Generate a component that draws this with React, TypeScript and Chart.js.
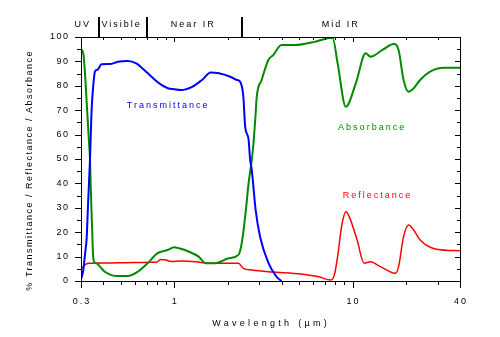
import { useEffect, useRef } from "react";
import { Chart, registerables } from "chart.js";

Chart.register(...registerables);

// ---------- data ----------
const transWl = [0.302, 0.309, 0.316, 0.323, 0.329, 0.337, 0.34, 0.344, 0.351, 0.359, 0.368, 0.374, 0.391, 0.435, 0.483, 0.549, 0.612, 0.695, 0.824, 0.92, 1.0, 1.09, 1.26, 1.43, 1.6, 1.78, 2.06, 2.24, 2.34, 2.44, 2.5, 2.61, 2.66, 2.72, 2.86, 3.03, 3.37, 3.74, 3.99];
const transVal = [1.2, 4.5, 11, 18, 32.5, 50, 59, 70, 79.6, 85.8, 86.5, 86.8, 88.8, 88.9, 89.9, 90.2, 89.2, 85.8, 81, 79, 78.6, 78.3, 79.6, 82.4, 85.4, 85.1, 83.7, 82.4, 81.7, 75.5, 63, 58, 50, 45.5, 29, 18, 7.4, 1.8, 0];

const absWl = [0.3, 0.309, 0.316, 0.323, 0.332, 0.337, 0.341, 0.346, 0.351, 0.359, 0.368, 0.383, 0.408, 0.483, 0.549, 0.624, 0.709, 0.806, 0.916, 0.999, 1.064, 1.21, 1.37, 1.5, 1.7, 2.02, 2.29, 2.39, 2.52, 2.61, 2.72, 2.78, 2.86, 2.9, 3.09, 3.37, 3.59, 3.99, 4.74, 6.11, 7.25, 7.73, 8.24, 9.16, 10.42, 11.84, 12.6, 14.7, 17.0, 18.1, 19.3, 20.6, 22.0, 23.9, 27.2, 32.3, 40];
const absVal = [95, 93.3, 85, 73, 58, 49.6, 36, 22.3, 10, 7.4, 7.2, 5.9, 3.8, 2, 2, 3.8, 7.3, 11.4, 12.7, 13.8, 13.4, 12, 10, 7.3, 7.3, 9.3, 10.7, 15.5, 29, 40, 49.6, 56.4, 68.7, 75.5, 82.4, 90.6, 92.6, 96.7, 96.7, 98, 99.5, 99.6, 89.2, 71.4, 81, 93.3, 91.9, 94.7, 97.1, 94.7, 82.4, 77.6, 79, 82.4, 85.8, 87.4, 87.4];

const reflWl = [0.3, 0.302, 0.316, 0.329, 0.4, 0.6, 0.8, 0.84, 0.9, 0.96, 1.1, 1.32, 1.56, 2.29, 2.44, 2.72, 3.37, 3.74, 5.15, 6.38, 7.56, 7.9, 8.24, 8.67, 9.16, 9.57, 10.6, 11.6, 12.6, 14.3, 17.4, 18.1, 19.3, 20.6, 22.0, 23.9, 29.6, 40];
const reflVal = [4.9, 5.1, 6.6, 7.3, 7.4, 7.6, 7.8, 8.8, 8.6, 8.0, 8.2, 7.9, 7.3, 7.3, 5.2, 4.5, 3.8, 3.6, 2.9, 1.8, 0.4, 2.5, 10, 22.3, 28.4, 26.4, 16.8, 7.3, 7.9, 5.9, 3.2, 5.9, 18.2, 23, 20.9, 16.8, 13, 12.4];

const seriesNames = ["Transmittance", "Absorbance", "Reflectance"];

const xTickLabels = [0.3, 1, 10, 40];
const yTickValues = [0, 10, 20, 30, 40, 50, 60, 70, 80, 90, 100];

const bandNames = ["UV", "Visible", "Near IR", "Mid IR"];
const bandEdges = [0.38, 0.7, 2.4];

const xTitle = "Wavelength (µm)";
const yTitle = "% Transmittance / Reflectance / Absorbance";

// ---------- styling / placement ----------
const COLORS = ["#0000ff", "#008a00", "#ff0000"];
const WIDTHS = [2, 2, 1.5];
const FONT = '9px "Liberation Sans", Arial, sans-serif';
// anchors of the in-plot series labels, in data units
const labelAnchors = [
  { x: 0.912, y: 72 },
  { x: 12.7, y: 62.7 },
  { x: 13.6, y: 35.2 },
];
const bandLabelAnchors = [0.303, 0.5, 1.26, 8.46];

function toPoints(xs: number[], ys: number[]) {
  return xs.map((x, i) => ({ x, y: ys[i] }));
}

function spaced(
  ctx: CanvasRenderingContext2D,
  text: string,
  x: number,
  y: number,
  align: "left" | "center" | "right",
  spacing: number
) {
  (ctx as any).letterSpacing = "0px";
  const w = ctx.measureText(text).width + spacing * (text.length - 1);
  const sx = align === "center" ? x - w / 2 : align === "right" ? x - w : x;
  (ctx as any).letterSpacing = spacing + "px";
  ctx.textAlign = "left";
  ctx.fillText(text, sx, y);
  (ctx as any).letterSpacing = "0px";
}

const decorPlugin = {
  id: "decor",
  afterDraw(chart: any) {
    const { ctx, chartArea } = chart;
    const { left, right, top, bottom } = chartArea;
    const xs = chart.scales.x;
    const ys = chart.scales.y;
    ctx.save();
    ctx.strokeStyle = "#000";
    ctx.fillStyle = "#000";
    ctx.lineWidth = 1;
    // frame
    ctx.strokeRect(Math.round(left) + 0.5, Math.round(top) + 0.5, Math.round(right - left), Math.round(bottom - top));

    // x ticks (log, major + minor), bottom outside and top inside
    ctx.beginPath();
    for (let d = -1; d <= 1; d++) {
      for (let m = 1; m <= 9; m++) {
        const v = +(m * Math.pow(10, d)).toPrecision(3);
        if (v < 0.3 - 1e-9 || v > 40 + 1e-9) continue;
        const major = m === 1 || xTickLabels.includes(v);
        const px = Math.round(xs.getPixelForValue(v)) + 0.5;
        const len = major ? 7 : 4;
        ctx.moveTo(px, bottom);
        ctx.lineTo(px, bottom + len);
        ctx.moveTo(px, top);
        ctx.lineTo(px, top + (major ? 5 : 3));
      }
    }
    // y ticks every 5, left outside and right inside
    for (let v = 0; v <= 100; v += 5) {
      const major = v % 10 === 0;
      const py = Math.round(ys.getPixelForValue(v)) + 0.5;
      ctx.moveTo(left, py);
      ctx.lineTo(left - (major ? 6 : 4), py);
      ctx.moveTo(right, py);
      ctx.lineTo(right - (major ? 5 : 3), py);
    }
    ctx.stroke();

    ctx.font = FONT;
    ctx.textBaseline = "middle";
    // y tick labels
    yTickValues.forEach((v) => {
      spaced(ctx, String(v), left - 13, ys.getPixelForValue(v), "right", 1.5);
    });
    // x tick labels
    xTickLabels.forEach((v) => {
      spaced(ctx, String(v), xs.getPixelForValue(v), bottom + 21, "center", 2);
    });
    // axis titles
    spaced(ctx, xTitle, (left + right) / 2 - 1, bottom + 43, "center", 3.3);
    ctx.save();
    ctx.translate(30, 171);
    ctx.rotate(-Math.PI / 2);
    spaced(ctx, yTitle, 0, 0, "center", 1.5);
    ctx.restore();

    // spectral band strip
    ctx.lineWidth = 2;
    ctx.beginPath();
    bandEdges.forEach((w) => {
      const px = Math.round(xs.getPixelForValue(w));
      ctx.moveTo(px, top - 20);
      ctx.lineTo(px, top);
    });
    ctx.stroke();
    bandNames.forEach((n, i) => {
      spaced(ctx, n, xs.getPixelForValue(bandLabelAnchors[i]), top - 12, "center", 2);
    });

    // series labels
    seriesNames.forEach((n, i) => {
      ctx.fillStyle = COLORS[i];
      spaced(ctx, n, xs.getPixelForValue(labelAnchors[i].x), ys.getPixelForValue(labelAnchors[i].y), "center", 2);
    });
    ctx.restore();
  },
};

export default function App() {
  const ref = useRef<HTMLCanvasElement | null>(null);
  useEffect(() => {
    if (!ref.current) return;
    const chart = new Chart(ref.current, {
      type: "line",
      data: {
        datasets: [
          { label: seriesNames[0], data: toPoints(transWl, transVal) },
          { label: seriesNames[1], data: toPoints(absWl, absVal) },
          { label: seriesNames[2], data: toPoints(reflWl, reflVal) },
        ].map((d, i) => ({
          ...d,
          borderColor: COLORS[i],
          backgroundColor: COLORS[i],
          borderWidth: WIDTHS[i],
          pointRadius: 0,
          fill: false,
          cubicInterpolationMode: "monotone" as const,
        })),
      },
      options: {
        animation: false,
        responsive: false,
        layout: { padding: { left: 81, top: 37, right: 40, bottom: 56 } },
        plugins: { legend: { display: false }, tooltip: { enabled: false } },
        scales: {
          x: { type: "logarithmic", min: 0.3, max: 40, display: false },
          y: { type: "linear", min: 0, max: 100, display: false },
        },
      },
      plugins: [decorPlugin],
    });
    return () => chart.destroy();
  }, []);
  return (
    <div style={{ position: "fixed", left: 0, top: 0, width: 500, height: 337, background: "#fff" }}>
      <canvas ref={ref} width={500} height={337} style={{ display: "block" }} />
    </div>
  );
}
